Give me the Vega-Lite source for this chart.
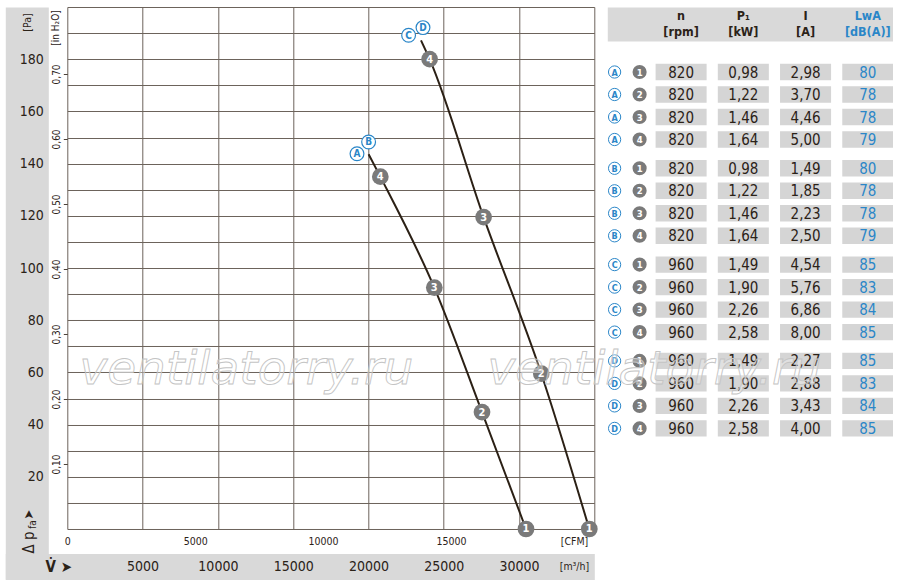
{
  "$schema": "https://vega.github.io/schema/vega-lite/v6.json",
  "padding": {"left": 18.3, "top": 6, "right": 0, "bottom": 0},
  "background": "white",
  "bounds": "flush",
  "spacing": 13,
  "datasets": {
    "curves": [
      {"curve": "AB", "pt": 0, "flow": 20011, "pa": 143.6},
      {"curve": "AB", "pt": 4, "flow": 20788, "pa": 135.0},
      {"curve": "AB", "pt": 3, "flow": 24374, "pa": 92.5},
      {"curve": "AB", "pt": 2, "flow": 27542, "pa": 44.8},
      {"curve": "AB", "pt": 1, "flow": 30464, "pa": 0},
      {"curve": "CD", "pt": 0, "flow": 23490, "pa": 187.2},
      {"curve": "CD", "pt": 4, "flow": 24062, "pa": 180.0},
      {"curve": "CD", "pt": 3, "flow": 27648, "pa": 119.5},
      {"curve": "CD", "pt": 2, "flow": 31480, "pa": 59.5},
      {"curve": "CD", "pt": 1, "flow": 34668, "pa": 0}
    ],
    "letters": [
      {"letter": "A", "flow": 19240, "pa": 143.8},
      {"letter": "B", "flow": 20011, "pa": 148.3},
      {"letter": "C", "flow": 22667, "pa": 189.2},
      {"letter": "D", "flow": 23623, "pa": 192.1}
    ],
    "watermark": [
      {"label": "ventilatorry.ru", "flow": 11888, "pa": 55.4}
    ],
    "table": [
      {"series": "A", "pt": 1, "n": "820", "p1": "0,98", "i": "2,98", "lwa": "80"},
      {"series": "A", "pt": 2, "n": "820", "p1": "1,22", "i": "3,70", "lwa": "78"},
      {"series": "A", "pt": 3, "n": "820", "p1": "1,46", "i": "4,46", "lwa": "78"},
      {"series": "A", "pt": 4, "n": "820", "p1": "1,64", "i": "5,00", "lwa": "79"},
      {"series": "B", "pt": 1, "n": "820", "p1": "0,98", "i": "1,49", "lwa": "80"},
      {"series": "B", "pt": 2, "n": "820", "p1": "1,22", "i": "1,85", "lwa": "78"},
      {"series": "B", "pt": 3, "n": "820", "p1": "1,46", "i": "2,23", "lwa": "78"},
      {"series": "B", "pt": 4, "n": "820", "p1": "1,64", "i": "2,50", "lwa": "79"},
      {"series": "C", "pt": 1, "n": "960", "p1": "1,49", "i": "4,54", "lwa": "85"},
      {"series": "C", "pt": 2, "n": "960", "p1": "1,90", "i": "5,76", "lwa": "83"},
      {"series": "C", "pt": 3, "n": "960", "p1": "2,26", "i": "6,86", "lwa": "84"},
      {"series": "C", "pt": 4, "n": "960", "p1": "2,58", "i": "8,00", "lwa": "85"},
      {"series": "D", "pt": 1, "n": "960", "p1": "1,49", "i": "2,27", "lwa": "85"},
      {"series": "D", "pt": 2, "n": "960", "p1": "1,90", "i": "2,88", "lwa": "83"},
      {"series": "D", "pt": 3, "n": "960", "p1": "2,26", "i": "3,43", "lwa": "84"},
      {"series": "D", "pt": 4, "n": "960", "p1": "2,58", "i": "4,00", "lwa": "85"}
    ]
  },
  "hconcat": [
    {
      "width": 527,
      "height": 522,
      "view": {"stroke": "#6b625a", "strokeWidth": 1},
      "data": {"name": "curves"},
      "layer": [
        {
          "layer": [
            {
              "mark": {"type": "line", "interpolate": "monotone", "color": "#2b2015", "strokeWidth": 2},
              "encoding": {
                "detail": {"field": "curve", "type": "nominal"},
                "x": {
                  "field": "flow", "type": "quantitative",
                  "scale": {"domain": [0, 35000], "nice": false, "zero": false},
                  "axis": {"orient": "bottom", "values": [5000, 10000, 15000, 20000, 25000, 30000], "grid": true, "gridColor": "#6b625a", "gridWidth": 1, "gridOpacity": 1, "labels": false, "ticks": false, "domain": false, "title": null, "zindex": 0}
                },
                "y": {
                  "field": "pa", "type": "quantitative",
                  "scale": {"domain": [0, 200], "nice": false, "zero": false},
                  "axis": {"orient": "left", "values": [10, 20, 30, 40, 50, 60, 70, 80, 90, 100, 110, 120, 130, 140, 150, 160, 170, 180, 190], "grid": true, "gridColor": "#6b625a", "gridWidth": 1, "gridOpacity": 1, "labels": false, "ticks": false, "domain": false, "title": null, "zindex": 0}
                }
              }
            },
            {
              "transform": [{"filter": "datum.pt > 0"}],
              "mark": {"type": "point", "shape": "circle", "filled": true, "color": "#7a7a7a", "opacity": 1, "size": 280},
              "encoding": {
                "x": {
                  "field": "flow", "type": "quantitative",
                  "axis": {"orient": "bottom", "offset": 37.5, "values": [5000, 10000, 15000, 20000, 25000, 30000, 33650], "labelExpr": "datum.value > 33000 ? '[m³/h]' : datum.value", "labelFontSize": {"condition": {"test": "datum.value > 33000", "value": 10.5}, "value": 14}, "labelBaseline": "middle", "labelPadding": 0, "tickSize": 0, "ticks": false, "domain": false, "grid": false, "title": "V̇ ➤", "titleX": -9, "titleY": 0, "titleAngle": 0, "titleAlign": "center", "titleBaseline": "middle", "titleFontSize": 15, "titleFontWeight": "bold", "zindex": 1}
                },
                "y": {
                  "field": "pa", "type": "quantitative",
                  "axis": {"orient": "left", "offset": 24, "values": [20, 40, 60, 80, 100, 120, 140, 160, 180], "labelAlign": "right", "labelBaseline": "middle", "labelPadding": 0, "tickSize": 0, "ticks": false, "domain": false, "grid": false, "labelFontSize": 14, "title": "[Pa]", "titleAngle": 270, "titleX": -16, "titleY": 15, "titleAlign": "center", "titleBaseline": "middle", "titleFontSize": 10.5, "zindex": 1}
                }
              }
            },
            {
              "transform": [{"filter": "datum.pt > 0"}],
              "mark": {"type": "text", "color": "white", "fontWeight": "bold", "fontSize": 11, "baseline": "middle", "dy": 0.5},
              "encoding": {
                "text": {"field": "pt", "type": "nominal"},
                "x": {
                  "field": "flow", "type": "quantitative",
                  "axis": {"orient": "bottom", "offset": 13, "values": [0, 8495.05, 16990.1, 25485.15, 33650], "labelExpr": "datum.value > 33000 ? '[CFM]' : format(round(datum.value / 1.69901 / 100) * 100, 'd')", "labelFontSize": 10.5, "labelBaseline": "middle", "labelPadding": 0, "tickSize": 0, "ticks": false, "domain": false, "grid": false, "title": null, "zindex": 1}
                },
                "y": {
                  "field": "pa", "type": "quantitative",
                  "axis": {"orient": "left", "values": [24.909, 49.818, 74.727, 99.636, 124.545, 149.454, 174.363], "labelExpr": "replace(format(datum.value / 249.09, '.2f'), '.', ',')", "labelAngle": 270, "labelAlign": "center", "labelBaseline": "bottom", "labelPadding": 2, "ticks": true, "tickSize": 4, "tickColor": "#4a4038", "domain": false, "grid": false, "labelFontSize": 10, "title": "[in H₂O]", "titleAngle": 270, "titleX": -11.5, "titleY": 20.5, "titleAlign": "center", "titleBaseline": "middle", "titleFontSize": 10, "zindex": 1}
                }
              }
            },
            {
              "data": {"name": "letters"},
              "mark": {"type": "point", "shape": "circle", "filled": true, "fill": "white", "stroke": "#2a86c8", "strokeWidth": 1.2, "size": 190, "opacity": 1},
              "encoding": {
                "x": {"field": "flow", "type": "quantitative", "axis": null},
                "y": {
                  "field": "pa", "type": "quantitative",
                  "axis": {"orient": "left", "labels": false, "ticks": false, "domain": false, "grid": false, "title": "Δ p", "titleAngle": 270, "titleX": -39, "titleY": 535, "titleAlign": "center", "titleBaseline": "middle", "titleFontSize": 15, "zindex": 1}
                }
              }
            },
            {
              "data": {"name": "letters"},
              "mark": {"type": "text", "color": "#2a86c8", "fontWeight": "bold", "fontSize": 10, "baseline": "middle", "dy": 0.5},
              "encoding": {
                "text": {"field": "letter", "type": "nominal"},
                "x": {"field": "flow", "type": "quantitative", "axis": null},
                "y": {
                  "field": "pa", "type": "quantitative",
                  "axis": {"orient": "left", "labels": false, "ticks": false, "domain": false, "grid": false, "title": "fa", "titleAngle": 270, "titleX": -34.5, "titleY": 517, "titleAlign": "center", "titleBaseline": "middle", "titleFontSize": 10, "zindex": 1}
                }
              }
            },
            {
              "data": {"name": "watermark"},
              "mark": {"type": "text", "font": "DejaVu Sans", "fontStyle": "italic", "fontSize": 47, "fill": "white", "fillOpacity": 0.3, "stroke": "#c4c4c4", "strokeWidth": 0.9, "align": "center", "baseline": "alphabetic"},
              "encoding": {
                "text": {"field": "label", "type": "nominal"},
                "x": {"field": "flow", "type": "quantitative", "axis": null},
                "y": {
                  "field": "pa", "type": "quantitative",
                  "axis": {"orient": "left", "labels": false, "ticks": false, "domain": false, "grid": false, "title": "➤", "titleAngle": 270, "titleX": -39, "titleY": 507, "titleAlign": "center", "titleBaseline": "middle", "titleFontSize": 13, "zindex": 1}
                }
              }
            }
          ],
          "resolve": {"axis": {"x": "independent", "y": "independent"}}
        },
        {
          "transform": [{"filter": "false"}],
          "mark": {"type": "point", "opacity": 0},
          "encoding": {
            "x": {
              "field": "flow", "type": "quantitative",
              "scale": {"domain": [0, 1], "range": [-62, 527], "nice": false, "zero": false},
              "axis": {"orient": "bottom", "offset": 37.5, "domainWidth": 26, "domainColor": "#d9d9d9", "domainCap": "butt", "labels": false, "ticks": false, "grid": false, "title": null, "zindex": 0}
            },
            "y": {
              "field": "pa", "type": "quantitative",
              "scale": {"domain": [0, 1], "range": [572, 0], "nice": false, "zero": false},
              "axis": {"orient": "left", "offset": 40.5, "domainWidth": 43, "domainColor": "#d9d9d9", "domainCap": "butt", "labels": false, "ticks": false, "grid": false, "title": null, "zindex": 0}
            }
          }
        }
      ],
      "resolve": {"scale": {"x": "independent", "y": "independent"}}
    },
    {
      "width": 286,
      "height": 432,
      "view": {"stroke": null},
      "data": {"name": "table"},
      "layer": [
        {
          "transform": [{"fold": ["n", "p1", "i", "lwa"], "as": ["key", "val"]}],
          "layer": [
            {
              "mark": {"type": "rect", "color": "#d5d5d5"},
              "encoding": {
                "x": {
                  "field": "key", "type": "nominal",
                  "scale": {"domain": ["n", "p1", "i", "lwa"], "paddingInner": 0.18, "paddingOuter": 0.388, "align": 1},
                  "axis": {"orient": "top", "offset": -17, "domainWidth": 34, "domainColor": "#d9d9d9", "domainCap": "butt", "labels": false, "ticks": false, "grid": false, "title": null, "zindex": 0}
                },
                "y": {
                  "field": "series", "type": "nominal",
                  "scale": {"domain": ["A", "B", "C", "D"], "range": [53.75, 432.65], "paddingInner": 0.0654, "paddingOuter": 0},
                  "axis": null
                },
                "yOffset": {
                  "field": "pt", "type": "ordinal",
                  "scale": {"domain": [1, 2, 3, 4], "paddingInner": 0.27, "paddingOuter": 0.135}
                }
              }
            },
            {
              "mark": {"type": "text", "fontSize": 15, "baseline": "middle", "dy": 0.5},
              "encoding": {
                "x": {
                  "field": "key", "type": "nominal",
                  "axis": {"orient": "top", "offset": -17, "ticks": false, "tickSize": 0, "domain": false, "grid": false, "labelPadding": 9, "labelBaseline": "middle", "labelAngle": 0, "labelFontSize": 12.5, "labelFontWeight": "bold", "labelLineHeight": 16.7, "labelColor": {"condition": {"test": "datum.value === 'lwa'", "value": "#2a86c8"}, "value": "#2b2218"}, "labelExpr": "datum.value === 'n' ? ['n', '[rpm]'] : datum.value === 'p1' ? ['P₁', '[kW]'] : datum.value === 'i' ? ['I', '[A]'] : ['LwA', '[dB(A)]']", "title": null, "zindex": 1}
                },
                "y": {"field": "series", "type": "nominal", "axis": null},
                "yOffset": {"field": "pt", "type": "ordinal"},
                "text": {"field": "val", "type": "nominal"},
                "color": {"condition": {"test": "datum.key === 'lwa'", "value": "#2a86c8"}, "value": "#2b2218"}
              }
            }
          ],
          "resolve": {"axis": {"x": "independent"}}
        },
        {
          "layer": [
            {
              "mark": {"type": "point", "shape": "circle", "filled": true, "fill": "white", "stroke": "#2a86c8", "strokeWidth": 1, "size": 150, "opacity": 1},
              "encoding": {
                "x": {"datum": "L", "type": "nominal", "scale": {"type": "point", "domain": ["L", "N"], "range": [7.3, 32.3], "padding": 0}, "axis": null},
                "y": {"field": "series", "type": "nominal", "axis": null},
                "yOffset": {"field": "pt", "type": "ordinal"}
              }
            },
            {
              "mark": {"type": "text", "color": "#2a86c8", "fontWeight": "bold", "fontSize": 9, "baseline": "middle", "dy": 0.5},
              "encoding": {
                "x": {"datum": "L", "type": "nominal", "axis": null},
                "y": {"field": "series", "type": "nominal", "axis": null},
                "yOffset": {"field": "pt", "type": "ordinal"},
                "text": {"field": "series", "type": "nominal"}
              }
            },
            {
              "mark": {"type": "point", "shape": "circle", "filled": true, "color": "#7a7a7a", "size": 200, "opacity": 1},
              "encoding": {
                "x": {"datum": "N", "type": "nominal", "axis": null},
                "y": {"field": "series", "type": "nominal", "axis": null},
                "yOffset": {"field": "pt", "type": "ordinal"}
              }
            },
            {
              "mark": {"type": "text", "color": "white", "fontWeight": "bold", "fontSize": 9.5, "baseline": "middle", "dy": 0.5},
              "encoding": {
                "x": {"datum": "N", "type": "nominal", "axis": null},
                "y": {"field": "series", "type": "nominal", "axis": null},
                "yOffset": {"field": "pt", "type": "ordinal"},
                "text": {"field": "pt", "type": "nominal"}
              }
            },
            {
              "transform": [{"filter": "datum.series === 'D' && datum.pt === 1"}],
              "mark": {"type": "text", "font": "DejaVu Sans", "fontStyle": "italic", "fontSize": 47, "fill": "white", "fillOpacity": 0.3, "stroke": "#c4c4c4", "strokeWidth": 0.9, "align": "center", "baseline": "alphabetic", "dx": 14.7, "dy": 23.3},
              "encoding": {
                "x": {"datum": "N", "type": "nominal", "axis": null},
                "y": {"field": "series", "type": "nominal", "axis": null},
                "yOffset": {"field": "pt", "type": "ordinal"},
                "text": {"value": "ventilatorry.ru"}
              }
            }
          ]
        }
      ],
      "resolve": {"scale": {"x": "independent"}}
    }
  ],
  "config": {
    "font": "Liberation Sans Narrow, DejaVu Sans Condensed, Liberation Sans, sans-serif",
    "view": {"stroke": null},
    "axis": {"labelColor": "#2b2218", "titleColor": "#2b2218", "labelOverlap": false, "labelFlush": false, "labelBound": false, "titleFontWeight": "normal"},
    "text": {"color": "#2b2218"}
  }
}
